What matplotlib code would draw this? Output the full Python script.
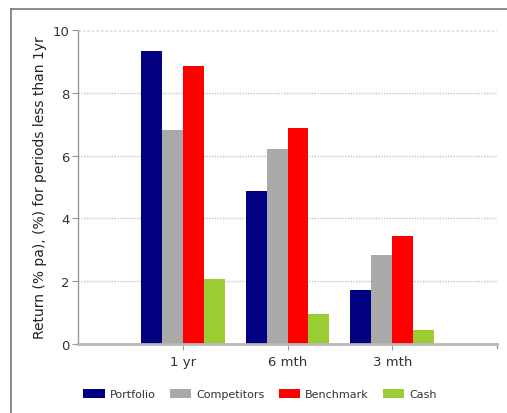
import matplotlib
matplotlib.use("Agg")
import matplotlib.pyplot as plt
from matplotlib.lines import Line2D
import numpy as np

categories = ["1 yr", "6 mth", "3 mth"]
series_names = ["Portfolio", "Competitors", "Benchmark", "Cash"]
portfolio = [9.33, 4.88, 1.71]
competitors = [6.80, 6.21, 2.83]
benchmark = [8.85, 6.87, 3.44]
cash = [2.08, 0.95, 0.46]
yticks = [0, 2, 4, 6, 8, 10]

colors = ["#000080", "#A9A9A9", "#FF0000", "#9ACD32"]
values = [portfolio, competitors, benchmark, cash]

plt.rcParams["font.family"] = ["DejaVu Sans"]
fig = plt.figure(figsize=(5.07, 4.14), dpi=100)
ax = fig.add_axes([78/507, 69/414, 419/507, 314/414])

x = np.arange(1, len(categories) + 1)
w = 0.2
for i, (name, vals) in enumerate(zip(series_names, values)):
    ax.bar(x + (i - 1.5) * w, vals, width=w, color=colors[i], label=name,
           zorder=3, linewidth=0)

ax.set_xlim(0, 4)
ax.set_ylim(0, 10)
ax.set_yticks(yticks)
ax.set_xticks(x)
ax.set_xticklabels(categories)

for yv in yticks[1:-1]:
    ax.axhline(yv, color="#c4c4c4", linestyle=(0, (1, 1)), linewidth=1, zorder=1)
ax.axhline(10, color="#e2e2e2", linestyle=(0, (1, 0.6)), linewidth=2, zorder=1)

for s in ["top", "right"]:
    ax.spines[s].set_visible(False)
ax.spines["left"].set_color("#999999")
ax.spines["left"].set_linewidth(1)
ax.spines["bottom"].set_color("#b8b8b8")
ax.spines["bottom"].set_linewidth(2)
ax.spines["bottom"].set_zorder(4)

ax.tick_params(axis="y", direction="out", length=4, color="#999999",
               labelsize=9.5, labelcolor="#333333", pad=2)
ax.tick_params(axis="x", direction="out", length=4, color="#999999",
               labelsize=9.5, labelcolor="#333333", pad=4)
ax.plot([4, 4], [0, -0.12], color="#999999", linewidth=1, clip_on=False)

ax.set_ylabel("Return (% pa), (%) for periods less than 1yr", fontsize=10,
              color="#222222", labelpad=4)

fig.legend(loc="center", bbox_to_anchor=(260/507, 19/414), ncol=4, frameon=False,
           fontsize=8, handlelength=1.9, handleheight=0.9, columnspacing=1.3,
           handletextpad=0.45, labelcolor="#333333")

fig.add_artist(Line2D([11/507, 1.0], [1 - 10/414, 1 - 10/414],
                      transform=fig.transFigure, color="#777777", linewidth=1.2))
fig.add_artist(Line2D([11/507, 11/507], [0, 1 - 10/414],
                      transform=fig.transFigure, color="#777777", linewidth=1.2))

fig.savefig("out.png", dpi=100)
